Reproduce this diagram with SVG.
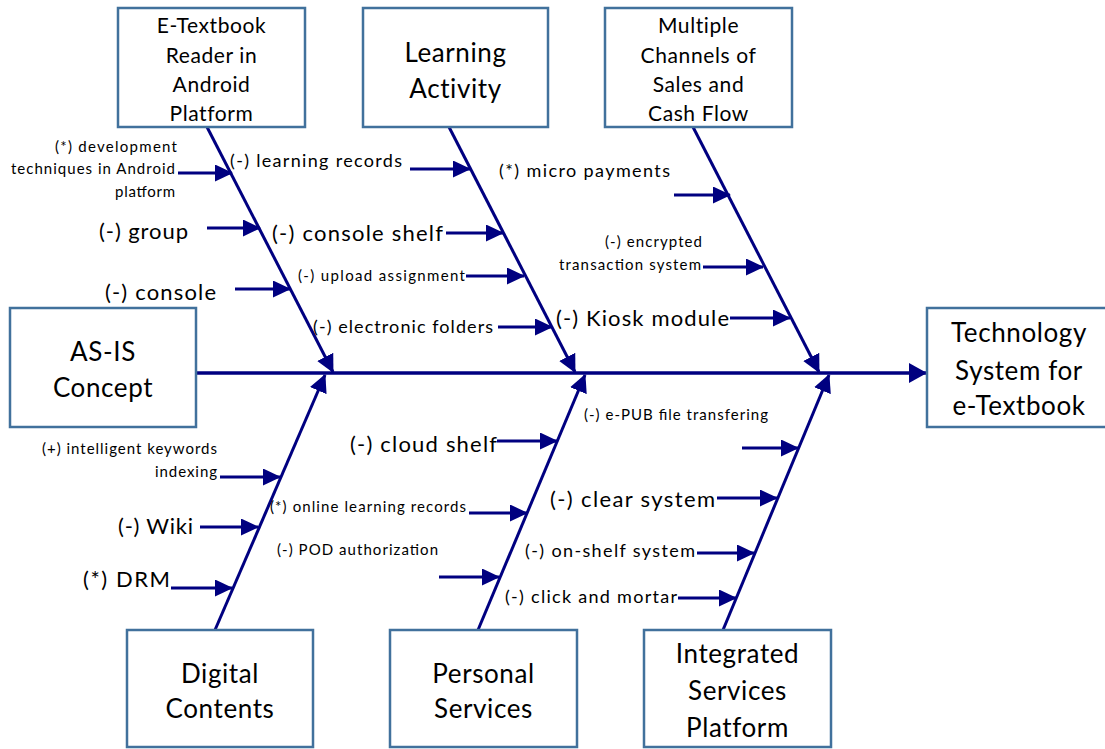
<svg xmlns="http://www.w3.org/2000/svg" width="1105" height="749" viewBox="0 0 1105 749">
  <style>
    .box { fill: #ffffff; stroke: #41719c; stroke-width: 2.5; }
    .title { font-family: Lato, "Liberation Sans", sans-serif; fill: #000000; text-anchor: middle; }
    .t21 { font-size: 21px; letter-spacing: 0.6px; }
    .t26 { font-size: 26px; letter-spacing: 0.6px; }
    .lbl { font-family: Lato, "Liberation Sans", sans-serif; fill: #000000; }
    .s15 { font-size: 15px; }
    .s18 { font-size: 18px; }
    .s22 { font-size: 22px; }
    .bone { stroke: #000080; stroke-width: 3.5; fill: none; }
    .rib { stroke: #000080; stroke-width: 3; fill: none; }
  </style>
  <defs>
    <marker id="headBig" markerUnits="userSpaceOnUse" markerWidth="18" markerHeight="20" refX="17" refY="10" orient="auto">
      <path d="M0,0 L18,10 L0,20 z" fill="#000080"/>
    </marker>
    <marker id="headMid" markerUnits="userSpaceOnUse" markerWidth="18" markerHeight="18" refX="17" refY="9" orient="auto">
      <path d="M0,0 L18,9 L0,18 z" fill="#000080"/>
    </marker>
    <marker id="headSmall" markerUnits="userSpaceOnUse" markerWidth="18" markerHeight="17" refX="17" refY="8.5" orient="auto">
      <path d="M0,0 L18,8.5 L0,17 z" fill="#000080"/>
    </marker>
  </defs>

  <rect width="1105" height="749" fill="#ffffff"/>

  <!-- spine, main bones and ribs -->
  <g id="connectors">
    <line class="bone" x1="196" y1="373" x2="926" y2="373" marker-end="url(#headBig)"/>

    <line class="rib" x1="207" y1="127" x2="333" y2="372" marker-end="url(#headMid)"/>
    <line class="rib" x1="449" y1="127" x2="575" y2="372" marker-end="url(#headMid)"/>
    <line class="rib" x1="693" y1="127" x2="819" y2="372" marker-end="url(#headMid)"/>
    <line class="rib" x1="215" y1="630" x2="325" y2="375" marker-end="url(#headMid)"/>
    <line class="rib" x1="478" y1="630" x2="585" y2="375" marker-end="url(#headMid)"/>
    <line class="rib" x1="723" y1="630" x2="829" y2="375" marker-end="url(#headMid)"/>

    <!-- causes on E-Textbook Reader bone -->
    <line class="rib" x1="178" y1="173" x2="232" y2="173" marker-end="url(#headSmall)"/>
    <line class="rib" x1="207" y1="228" x2="260" y2="228" marker-end="url(#headSmall)"/>
    <line class="rib" x1="235" y1="289" x2="290" y2="289" marker-end="url(#headSmall)"/>

    <!-- causes on Learning Activity bone -->
    <line class="rib" x1="410" y1="169" x2="470" y2="169" marker-end="url(#headSmall)"/>
    <line class="rib" x1="446" y1="233" x2="503" y2="233" marker-end="url(#headSmall)"/>
    <line class="rib" x1="466" y1="276" x2="524" y2="276" marker-end="url(#headSmall)"/>
    <line class="rib" x1="498" y1="327" x2="552" y2="327" marker-end="url(#headSmall)"/>

    <!-- causes on Multiple Channels bone -->
    <line class="rib" x1="674" y1="195" x2="730" y2="195" marker-end="url(#headSmall)"/>
    <line class="rib" x1="703" y1="267" x2="763" y2="267" marker-end="url(#headSmall)"/>
    <line class="rib" x1="730" y1="318" x2="790" y2="318" marker-end="url(#headSmall)"/>

    <!-- causes on Digital Contents bone -->
    <line class="rib" x1="220" y1="477" x2="280" y2="477" marker-end="url(#headSmall)"/>
    <line class="rib" x1="200" y1="527" x2="258" y2="527" marker-end="url(#headSmall)"/>
    <line class="rib" x1="171" y1="588" x2="232" y2="588" marker-end="url(#headSmall)"/>

    <!-- causes on Personal Services bone -->
    <line class="rib" x1="497" y1="441" x2="557" y2="441" marker-end="url(#headSmall)"/>
    <line class="rib" x1="469" y1="513" x2="527" y2="513" marker-end="url(#headSmall)"/>
    <line class="rib" x1="439" y1="577" x2="499" y2="577" marker-end="url(#headSmall)"/>

    <!-- causes on Integrated Services Platform bone -->
    <line class="rib" x1="742" y1="448" x2="798" y2="448" marker-end="url(#headSmall)"/>
    <line class="rib" x1="717" y1="498" x2="777" y2="498" marker-end="url(#headSmall)"/>
    <line class="rib" x1="697" y1="553" x2="754" y2="553" marker-end="url(#headSmall)"/>
    <line class="rib" x1="678" y1="598" x2="736" y2="598" marker-end="url(#headSmall)"/>
  </g>

  <!-- category and effect boxes -->
  <g id="node-etextbook-reader">
    <rect class="box" x="118" y="8" width="187" height="119"/>
    <text class="title t21" x="211.5" y="33">E-Textbook</text>
    <text class="title t21" x="211.5" y="63">Reader in</text>
    <text class="title t21" x="211.5" y="92">Android</text>
    <text class="title t21" x="211.5" y="121">Platform</text>
  </g>
  <g id="node-learning-activity">
    <rect class="box" x="363" y="8" width="185" height="119"/>
    <text class="title t26" x="455.5" y="62">Learning</text>
    <text class="title t26" x="455.5" y="98">Activity</text>
  </g>
  <g id="node-multiple-channels">
    <rect class="box" x="605" y="8" width="187" height="119"/>
    <text class="title t21" x="698.5" y="33">Multiple</text>
    <text class="title t21" x="698.5" y="63">Channels of</text>
    <text class="title t21" x="698.5" y="92">Sales and</text>
    <text class="title t21" x="698.5" y="121">Cash Flow</text>
  </g>
  <g id="node-as-is">
    <rect class="box" x="10" y="308" width="186" height="119"/>
    <text class="title t26" x="103" y="361">AS-IS</text>
    <text class="title t26" x="103" y="397">Concept</text>
  </g>
  <g id="node-technology-system">
    <rect class="box" x="927" y="308" width="182" height="119"/>
    <text class="title t26" x="1019" y="342">Technology</text>
    <text class="title t26" x="1019" y="380">System for</text>
    <text class="title t26" x="1019" y="415">e-Textbook</text>
  </g>
  <g id="node-digital-contents">
    <rect class="box" x="127" y="630" width="186" height="117"/>
    <text class="title t26" x="220" y="683">Digital</text>
    <text class="title t26" x="220" y="718">Contents</text>
  </g>
  <g id="node-personal-services">
    <rect class="box" x="390" y="630" width="187" height="117"/>
    <text class="title t26" x="483.5" y="683">Personal</text>
    <text class="title t26" x="483.5" y="718">Services</text>
  </g>
  <g id="node-integrated-services">
    <rect class="box" x="644" y="630" width="187" height="117"/>
    <text class="title t26" x="737.5" y="663">Integrated</text>
    <text class="title t26" x="737.5" y="700">Services</text>
    <text class="title t26" x="737.5" y="737">Platform</text>
  </g>

  <!-- cause labels -->
  <g id="labels">
    <text class="lbl s15" x="55" y="152" textLength="122" lengthAdjust="spacing">(*) development</text>
    <text class="lbl s15" x="11" y="174" textLength="164" lengthAdjust="spacing">techniques in Android</text>
    <text class="lbl s15" x="115" y="197" textLength="60" lengthAdjust="spacing">platform</text>
    <text class="lbl s22" x="99" y="239" textLength="89" lengthAdjust="spacing">(-) group</text>
    <text class="lbl s22" x="105" y="300" textLength="111" lengthAdjust="spacing">(-) console</text>

    <text class="lbl s18" x="230" y="167" textLength="172" lengthAdjust="spacing">(-) learning records</text>
    <text class="lbl s22" x="272" y="241" textLength="171" lengthAdjust="spacing">(-) console shelf</text>
    <text class="lbl s15" x="298" y="281" textLength="167" lengthAdjust="spacing">(-) upload assignment</text>
    <text class="lbl s18" x="313" y="333" textLength="180" lengthAdjust="spacing">(-) electronic folders</text>

    <text class="lbl s18" x="499" y="177" textLength="171" lengthAdjust="spacing">(*) micro payments</text>
    <text class="lbl s15" x="605" y="247" textLength="97" lengthAdjust="spacing">(-) encrypted</text>
    <text class="lbl s15" x="559" y="270" textLength="142" lengthAdjust="spacing">transaction system</text>
    <text class="lbl s22" x="556" y="326" textLength="173" lengthAdjust="spacing">(-) Kiosk module</text>

    <text class="lbl s15" x="42" y="454" textLength="175" lengthAdjust="spacing">(+) intelligent keywords</text>
    <text class="lbl s15" x="155" y="477" textLength="62" lengthAdjust="spacing">indexing</text>
    <text class="lbl s22" x="118" y="534" textLength="75" lengthAdjust="spacing">(-) Wiki</text>
    <text class="lbl s22" x="83" y="587" textLength="87" lengthAdjust="spacing">(*) DRM</text>

    <text class="lbl s22" x="350" y="452" textLength="147" lengthAdjust="spacing">(-) cloud shelf</text>
    <text class="lbl s15" x="270" y="512" textLength="196" lengthAdjust="spacing">(*) online learning records</text>
    <text class="lbl s15" x="277" y="555" textLength="161" lengthAdjust="spacing">(-) POD authorization</text>

    <text class="lbl s15" x="584" y="420" textLength="184" lengthAdjust="spacing">(-) e-PUB file transfering</text>
    <text class="lbl s22" x="550" y="507" textLength="165" lengthAdjust="spacing">(-) clear system</text>
    <text class="lbl s18" x="525" y="557" textLength="170" lengthAdjust="spacing">(-) on-shelf system</text>
    <text class="lbl s18" x="505" y="603" textLength="172" lengthAdjust="spacing">(-) click and mortar</text>
  </g>
</svg>
